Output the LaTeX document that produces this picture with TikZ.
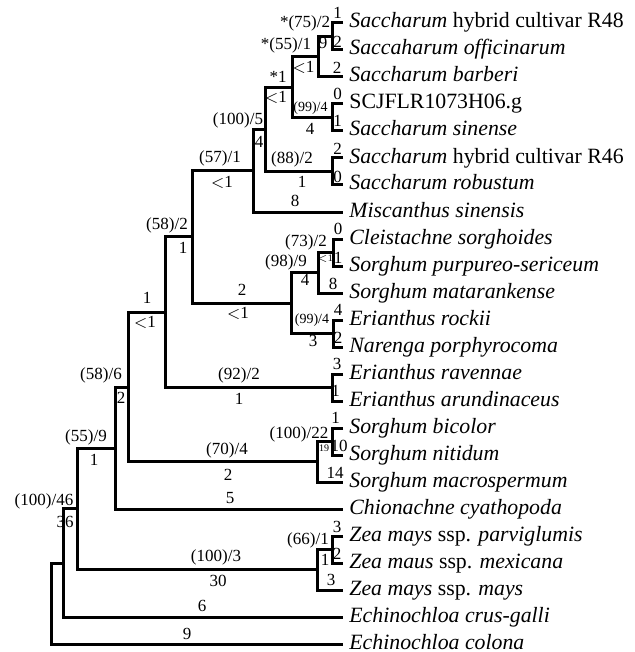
\documentclass[tikz,border=0pt]{standalone}
\usepackage{fontspec}
\setmainfont{Liberation Serif}
\begin{document}
\begin{tikzpicture}[x=0.5pt,y=-0.5pt,
  br/.style={line width=1.5pt},
  taxon/.style={anchor=base west,inner sep=0pt,font=\fontsize{10.9}{12}\selectfont},
  num/.style={inner sep=0pt,font=\fontsize{8.5}{10}\selectfont},
  snum/.style={inner sep=0pt,font=\fontsize{7}{8}\selectfont},
  tnum/.style={inner sep=0pt,font=\fontsize{5}{6}\selectfont}]
\useasboundingbox (0,0) rectangle (635,652);
% tips
\foreach \i in {1,...,24} \coordinate (t\i) at (343,{23+27*(\i-1)});
% internal nodes
\coordinate (n1) at (332,36.5);
\coordinate (n2) at (318,56.75);
\coordinate (n3) at (332,117.5);
\coordinate (n4) at (292,87.1);
\coordinate (n5) at (332,171.5);
\coordinate (n6) at (265,129.3);
\coordinate (n7) at (253,170.7);
\coordinate (n8) at (333,252.5);
\coordinate (n9) at (318,272.75);
\coordinate (n10) at (333,333.5);
\coordinate (n11) at (291,303.1);
\coordinate (n12) at (192,236.9);
\coordinate (n13) at (332,387.5);
\coordinate (n14) at (165,312.2);
\coordinate (n15) at (332,441.5);
\coordinate (n16) at (317,461.75);
\coordinate (n17) at (128,387);
\coordinate (n18) at (115,448);
\coordinate (n19) at (332,549.5);
\coordinate (n20) at (317,569.75);
\coordinate (n21) at (77,508.9);
\coordinate (n22) at (63,563);
\coordinate (root) at (51,603.5);
% branches
\draw[br] (t1) -| (n1) |- (t2);
\draw[br] (n1) -| (n2) |- (t3);
\draw[br] (t4) -| (n3) |- (t5);
\draw[br] (n2) -| (n4) |- (n3);
\draw[br] (t6) -| (n5) |- (t7);
\draw[br] (n4) -| (n6) |- (n5);
\draw[br] (n6) -| (n7) |- (t8);
\draw[br] (t9) -| (n8) |- (t10);
\draw[br] (n8) -| (n9) |- (t11);
\draw[br] (t12) -| (n10) |- (t13);
\draw[br] (n9) -| (n11) |- (n10);
\draw[br] (n7) -| (n12) |- (n11);
\draw[br] (t14) -| (n13) |- (t15);
\draw[br] (n12) -| (n14) |- (n13);
\draw[br] (t16) -| (n15) |- (t17);
\draw[br] (n15) -| (n16) |- (t18);
\draw[br] (n14) -| (n17) |- (n16);
\draw[br] (n17) -| (n18) |- (t19);
\draw[br] (t20) -| (n19) |- (t21);
\draw[br] (n19) -| (n20) |- (t22);
\draw[br] (n18) -| (n21) |- (n20);
\draw[br] (n21) -| (n22) |- (t23);
\draw[br] (n22) -| (root) |- (t24);
% taxa
\node[taxon] (s1) at (349,28) {\textit{Saccharum} hybrid cultivar R48};
\node[taxon] (s2) at (349,55) {\textit{Saccaharum officinarum}};
\node[taxon] (s3) at (349,82) {\textit{Saccharum barberi}};
\node[taxon] (s4) at (349,109) {SCJFLR1073H06.g};
\node[taxon] (s5) at (349,136) {\textit{Saccharum sinense}};
\node[taxon] (s6) at (349,163) {\textit{Saccharum} hybrid cultivar R46};
\node[taxon] (s7) at (349,190) {\textit{Saccharum robustum}};
\node[taxon] (s8) at (349,217) {\textit{Miscanthus sinensis}};
\node[taxon] (s9) at (349,244) {\textit{Cleistachne sorghoides}};
\node[taxon] (s10) at (349,271) {\textit{Sorghum purpureo-sericeum}};
\node[taxon] (s11) at (349,298) {\textit{Sorghum matarankense}};
\node[taxon] (s12) at (349,325) {\textit{Erianthus rockii}};
\node[taxon] (s13) at (349,352) {\textit{Narenga porphyrocoma}};
\node[taxon] (s14) at (349,379) {\textit{Erianthus ravennae}};
\node[taxon] (s15) at (349,406) {\textit{Erianthus arundinaceus}};
\node[taxon] (s16) at (349,433) {\textit{Sorghum bicolor}};
\node[taxon] (s17) at (349,460) {\textit{Sorghum nitidum}};
\node[taxon] (s18) at (349,487) {\textit{Sorghum macrospermum}};
\node[taxon] (s19) at (349,514) {\textit{Chionachne cyathopoda}};
\node[taxon] (s20) at (349,541) {\textit{Zea mays} ssp. \textit{parviglumis}};
\node[taxon] (s21) at (349,568) {\textit{Zea maus} ssp. \textit{mexicana}};
\node[taxon] (s22) at (349,595) {\textit{Zea mays} ssp. \textit{mays}};
\node[taxon] (s23) at (349,622) {\textit{Echinochloa crus-galli}};
\node[taxon] (s24) at (349,649) {\textit{Echinochloa colona}};
% tip branch labels
\node[num] (b1) at (337.5,13) {1};
\node[num] (b2) at (337.5,42) {2};
\node[num] (b3) at (337,68) {2};
\node[num] (b4) at (337.5,94) {0};
\node[num] (b5) at (337.5,121) {1};
\node[num] (b6) at (337.5,149) {2};
\node[num] (b7) at (337.5,177) {0};
\node[num] (b8) at (295,201) {8};
\node[num] (b9) at (338,229) {0};
\node[num] (b10) at (338,258) {1};
\node[num] (b11) at (333,284) {8};
\node[num] (b12) at (338,310) {4};
\node[num] (b13) at (338,338) {2};
\node[num] (b14) at (337,364) {3};
\node[num] (b15) at (335.5,391) {1};
\node[num] (b16) at (335.5,418) {1};
\node[num] (b17) at (339,446) {10};
\node[num] (b18) at (335,473) {14};
\node[num] (b19) at (230,498) {5};
\node[num] (b20) at (337,527) {3};
\node[num] (b21) at (337,554) {2};
\node[num] (b22) at (331,580) {3};
\node[num] (b23) at (202,606) {6};
\node[num] (b24) at (187,634) {9};
% internal branch labels
\node[num,anchor=east] (c1) at (330.5,23) {*(75)/2};
\node[num] (c2) at (323,43) {9};
\node[num] (c3) at (286,45) {*(55)/1};
\node[num] (c4) at (303.5,67) {$<$1};
\node[num] (c5) at (278,77) {*1};
\node[num] (c6) at (276,97) {$<$1};
\node[snum] (c7) at (310.5,108) {(99)/4};
\node[num] (c8) at (310,129) {4};
\node[num] (c9) at (238,120) {(100)/5};
\node[num] (c10) at (259,142) {4};
\node[num] (c11) at (220,158) {(57)/1};
\node[num] (c12) at (222,182) {$<$1};
\node[num] (c13) at (292,159) {(88)/2};
\node[num] (c14) at (302,182) {1};
\node[num] (c15) at (167,225) {(58)/2};
\node[num] (c16) at (183,248) {1};
\node[num] (c17) at (306,242) {(73)/2};
\node[tnum] (c18) at (325,259) {$<$1};
\node[num] (c19) at (286,262) {(98)/9};
\node[num] (c20) at (305,280) {4};
\node[num] (c21) at (242,290) {2};
\node[num] (c22) at (238,313) {$<$1};
\node[num] (c23) at (147,298) {1};
\node[num] (c24) at (145,322) {$<$1};
\node[snum] (c25) at (312,320) {(99)/4};
\node[num] (c26) at (313,341) {3};
\node[num] (c27) at (239,375) {(92)/2};
\node[num] (c28) at (239,399) {1};
\node[num] (c29) at (101,375) {(58)/6};
\node[num] (c30) at (121,398) {2};
\node[num] (c31) at (299,434) {(100)/22};
\node[tnum] (c32) at (324,448) {19};
\node[num] (c33) at (227,450) {(70)/4};
\node[num] (c34) at (228,475) {2};
\node[num] (c35) at (86,437) {(55)/9};
\node[num] (c36) at (94,460) {1};
\node[num] (c37) at (44,501) {(100)/46};
\node[num] (c38) at (65,522) {36};
\node[num] (c39) at (308,540) {(66)/1};
\node[num] (c40) at (325,560) {1};
\node[num] (c41) at (216,557) {(100)/3};
\node[num] (c42) at (218,581) {30};
\end{tikzpicture}
\end{document}
